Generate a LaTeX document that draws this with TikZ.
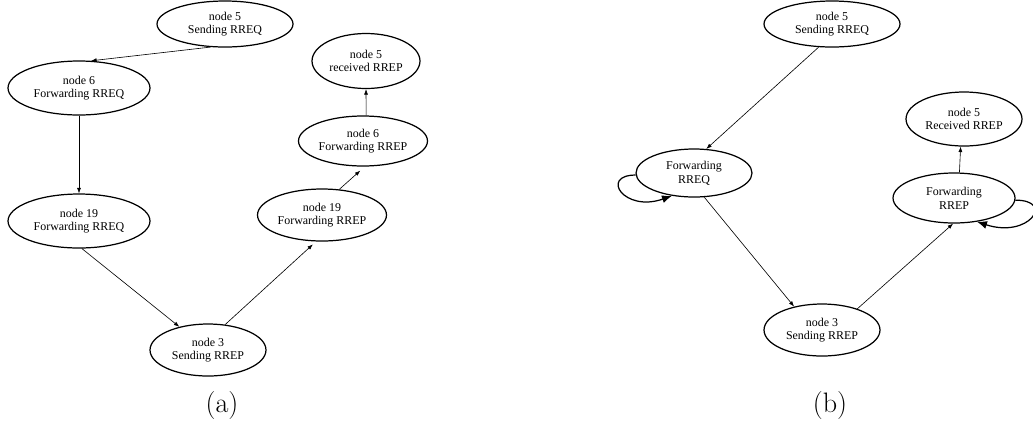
\documentclass[tikz,border=0pt]{standalone}
\usepackage{fontspec}
\usepackage{tikz}
\usetikzlibrary{arrows.meta,shapes.geometric}
\newfontfamily\nodefont{Liberation Serif}

\begin{document}
\begin{tikzpicture}[x=0.02cm,y=-0.02cm,
        state/.style={ellipse,draw,line width=0.7pt,inner sep=0pt,align=center,
          font=\nodefont\fontsize{6.8}{7.8}\selectfont},
        edge/.style={line width=0.35pt,-{Latex[length=1.1mm,width=0.8mm]}},
        loop/.style={line width=0.7pt,-{Latex[length=2mm,width=1.6mm]}},
        caption/.style={font=\fontsize{16}{19}\selectfont}]
        \useasboundingbox (0,0) rectangle (1033,430);
        % (a) one path
        \node[state,minimum width=2.72cm,minimum height=0.92cm] (as5) at (225,24) {node 5\\Sending RREQ};
        \node[state,minimum width=2.84cm,minimum height=1.08cm] (af6) at (79,88) {node 6\\Forwarding RREQ};
        \node[state,minimum width=2.84cm,minimum height=1.08cm] (af19) at (79,221) {node 19\\Forwarding RREQ};
        \node[state,minimum width=2.32cm,minimum height=1.04cm] (as3) at (208,350) {node 3\\Sending RREP};
        \node[state,minimum width=2.58cm,minimum height=1.04cm] (ar19) at (322,215) {node 19\\Forwarding RREP};
        \node[state,minimum width=2.58cm,minimum height=1.0cm] (ar6) at (363,141) {node 6\\Forwarding RREP};
        \node[state,minimum width=2.16cm,minimum height=1.1cm] (ar5) at (366,61) {node 5\\received RREP};
        \draw[edge] (as5.238) -- (af6.66);
        \draw[edge] (af6.south) -- (af19.north);
        \draw[edge] (af19.276) -- (as3.141);
        \draw[edge] (as3.56) -- ([yshift=-0.06cm]ar19.251);
        \draw[edge] (ar19.56) -- ([yshift=-0.08cm]ar6.264);
        \draw[edge] (ar6.83) -- (ar5.south);
        \node[caption] (capa) at (222,405) {(a)};
        % (b) merged states
        \node[state,minimum width=2.72cm,minimum height=0.92cm] (bs5) at (832,24) {node 5\\Sending RREQ};
        \node[state,minimum width=2.32cm,minimum height=0.96cm] (bfq) at (694,173) {Forwarding\\RREQ};
        \node[state,minimum width=2.32cm,minimum height=1.08cm] (brr) at (964,119) {node 5\\Received RREP};
        \node[state,minimum width=2.44cm,minimum height=1.0cm] (bfp) at (954,198) {Forwarding\\RREP};
        \node[state,minimum width=2.32cm,minimum height=1.04cm] (bs3) at (822,330) {node 3\\Sending RREP};
        \draw[edge] (bs5.240) -- (bfq.63);
        \draw[edge] (bfq.293) -- (bs3.140);
        \draw[edge] (bs3.31) -- (bfp.268);
        \draw[edge] (bfp.78) -- (brr.263);
        \draw[loop] (bfq.182) .. controls +(-36,0) and +(-48,17) .. (bfq.226);
        \draw[loop] (bfp.-2) .. controls +(40,0) and +(52,17) .. (bfp.314);
        \node[caption] (capb) at (830,405) {(b)};
\end{tikzpicture}
\end{document}
